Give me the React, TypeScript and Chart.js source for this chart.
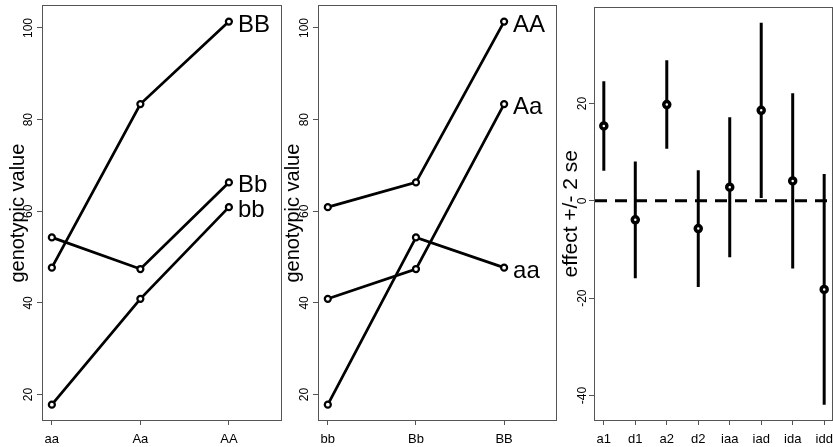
import { useEffect, useRef } from 'react';
import { Chart, registerables } from 'chart.js';

Chart.register(...registerables);

const FONT = "'Liberation Sans', Arial, Helvetica, sans-serif";
Chart.defaults.font.family = FONT;
Chart.defaults.color = '#000';

// Genotypes at the two loci
const locusA = ['aa', 'Aa', 'AA'];
const locusB = ['bb', 'Bb', 'BB'];

// Genotypic values for each B genotype, listed across aa, Aa, AA
const bbValues = [17.8, 40.9, 60.9];
const BbValues = [54.3, 47.4, 66.3];
const BBValues = [47.7, 83.4, 101.4];
const genoTicks = [20, 40, 60, 80, 100];

// Estimated genetic effects and their standard errors
const effectLabels = ['a1', 'd1', 'a2', 'd2', 'iaa', 'iad', 'ida', 'idd'];
const effectValues = [15.4, -3.9, 19.8, -5.7, 2.8, 18.6, 4.1, -18.2];
const effectSE = [4.6, 6.0, 4.55, 6.0, 7.2, 9.0, 9.0, 11.85];
const effectTicks = [-40, -20, 0, 20];

const HEIGHT = 447;
const AXIS_COLOR = '#555';

// Axis limits padded by 4% on each side of the data range
function padded(lo: number, hi: number) {
  const p = (hi - lo) * 0.04;
  return { min: lo - p, max: hi + p };
}

function xScale(labels: string[], min: number, max: number) {
  return {
    type: 'linear',
    min,
    max,
    afterBuildTicks: (s: any) => {
      s.ticks = labels.map((_, i) => ({ value: i }));
    },
    afterFit: (s: any) => {
      s.height = 27;
      s.paddingLeft = 0;
      s.paddingRight = 0;
    },
    ticks: {
      callback: (v: any) => labels[v] ?? '',
      autoSkip: false,
      minRotation: 0,
      maxRotation: 0,
      padding: 7,
      color: '#000',
      font: { size: 13 },
    },
    grid: { drawOnChartArea: false, drawTicks: true, tickLength: 5, color: AXIS_COLOR },
    border: { display: false },
  };
}

function yScale(tickValues: number[], min: number, max: number, title: string, titlePad: number, titleSize: number) {
  return {
    type: 'linear',
    min,
    max,
    afterBuildTicks: (s: any) => {
      s.ticks = tickValues.map((v) => ({ value: v }));
    },
    afterFit: (s: any) => {
      s.width = 43;
      s.paddingTop = 0;
      s.paddingBottom = 0;
    },
    ticks: {
      callback: (v: any) => String(v),
      minRotation: 90,
      maxRotation: 90,
      crossAlign: 'center',
      padding: -2,
      color: '#000',
      font: { size: 12 },
    },
    grid: { drawOnChartArea: false, drawTicks: true, tickLength: 6, color: AXIS_COLOR },
    border: { display: false },
    title: {
      display: true,
      text: title,
      color: '#000',
      font: { size: titleSize },
      padding: { top: titlePad, bottom: 0 },
    },
  };
}

// Frame around the plotting region
const boxPlugin = {
  id: 'plotBox',
  beforeDatasetsDraw(chart: any) {
    const { ctx, chartArea: a } = chart;
    ctx.save();
    ctx.strokeStyle = AXIS_COLOR;
    ctx.lineWidth = 1;
    const l = Math.round(a.left) - 0.5;
    const t = Math.round(a.top) - 0.5;
    const r = Math.round(a.right) - 0.5;
    const b = Math.round(a.bottom) + 0.5;
    ctx.strokeRect(l, t, r - l, b - t);
    ctx.restore();
  },
};

// Series name written just right of each line's last point
const endLabelPlugin = {
  id: 'endLabels',
  afterDatasetsDraw(chart: any) {
    const { ctx, scales } = chart;
    ctx.save();
    ctx.font = `24px ${FONT}`;
    ctx.fillStyle = '#000';
    ctx.textAlign = 'left';
    ctx.textBaseline = 'alphabetic';
    chart.data.datasets.forEach((ds: any) => {
      const last = ds.data[ds.data.length - 1];
      const px = scales.x.getPixelForValue(last.x);
      const py = scales.y.getPixelForValue(last.y);
      ctx.fillText(ds.label, px + 9, py + 10);
    });
    ctx.restore();
  },
};

const baseOptions = (rightPad: number) => ({
  responsive: false,
  animation: false,
  events: [],
  devicePixelRatio: 1,
  layout: { padding: { top: 4, right: rightPad, bottom: 0, left: 0 } },
  plugins: { legend: { display: false }, tooltip: { enabled: false } },
});

const lineStyle = {
  borderColor: '#000',
  borderWidth: 2.75,
  pointRadius: 3,
  pointBorderWidth: 2.25,
  pointBorderColor: '#000',
  pointBackgroundColor: '#fff',
  fill: false,
};

const rowsB = [bbValues, BbValues, BBValues];
const allGeno = [...bbValues, ...BbValues, ...BBValues];
const genoRange = padded(Math.min(...allGeno), Math.max(...allGeno));

// Panel 1: one line per B genotype across the A genotypes
function configByA() {
  return {
    type: 'line',
    data: {
      datasets: locusB.map((name, j) => ({
        label: name,
        data: rowsB[j].map((v, i) => ({ x: i, y: v })),
        ...lineStyle,
      })),
    },
    options: {
      ...baseOptions(18),
      scales: {
        x: xScale(locusA, -0.1, 2.6),
        y: yScale(genoTicks, genoRange.min, genoRange.max, 'genotypic value', 6, 20),
      },
    },
    plugins: [boxPlugin, endLabelPlugin],
  };
}

// Panel 2: one line per A genotype across the B genotypes
function configByB() {
  return {
    type: 'line',
    data: {
      datasets: locusA.map((name, i) => ({
        label: name,
        data: rowsB.map((row, j) => ({ x: j, y: row[i] })),
        ...lineStyle,
      })),
    },
    options: {
      ...baseOptions(19),
      scales: {
        x: xScale(locusB, -0.1, 2.6),
        y: yScale(genoTicks, genoRange.min, genoRange.max, 'genotypic value', 5, 20),
      },
    },
    plugins: [boxPlugin, endLabelPlugin],
  };
}

// Panel 3: effects with +/- 2 standard error bars
function configEffects() {
  const lows = effectValues.map((v, i) => v - 2 * effectSE[i]);
  const highs = effectValues.map((v, i) => v + 2 * effectSE[i]);
  const yr = padded(Math.min(...lows), Math.max(...highs));
  const n = effectLabels.length;
  const xr = padded(0, n - 1);
  return {
    type: 'line',
    data: {
      datasets: [
        {
          label: 'effect',
          data: effectValues.map((v, i) => ({ x: i, y: v })),
          showLine: false,
          pointRadius: 3,
          pointBorderWidth: 3.5,
          pointBorderColor: '#000',
          pointBackgroundColor: '#fff',
        },
        ...effectValues.map((_, i) => ({
          label: effectLabels[i],
          data: [
            { x: i, y: lows[i] },
            { x: i, y: highs[i] },
          ],
          borderColor: '#000',
          borderWidth: 3,
          borderCapStyle: 'butt',
          pointRadius: 0,
        })),
        {
          label: 'zero',
          data: [
            { x: xr.min, y: 0 },
            { x: xr.max, y: 0 },
          ],
          borderColor: '#000',
          borderWidth: 3,
          borderDash: [12, 8],
          borderCapStyle: 'butt',
          pointRadius: 0,
        },
      ],
    },
    options: {
      ...baseOptions(10),
      scales: {
        x: xScale(effectLabels, xr.min, xr.max),
        y: yScale(effectTicks, yr.min, yr.max, 'effect +/- 2 se', 7, 21),
      },
    },
    plugins: [boxPlugin],
  };
}

function Panel({ left, width, build }: { left: number; width: number; build: () => any }) {
  const ref = useRef<HTMLCanvasElement>(null);
  useEffect(() => {
    const chart = new Chart(ref.current as HTMLCanvasElement, build());
    return () => chart.destroy();
  }, [build]);
  return (
    <canvas
      ref={ref}
      width={width}
      height={HEIGHT}
      style={{ position: 'absolute', left, top: 0, width, height: HEIGHT }}
    />
  );
}

export default function App() {
  return (
    <div
      style={{
        position: 'fixed',
        left: 0,
        top: 0,
        width: 833,
        height: HEIGHT,
        overflow: 'hidden',
        background: '#fff',
      }}
    >
      <Panel left={0} width={300} build={configByA} />
      <Panel left={276} width={300} build={configByB} />
      <Panel left={552} width={291} build={configEffects} />
    </div>
  );
}
